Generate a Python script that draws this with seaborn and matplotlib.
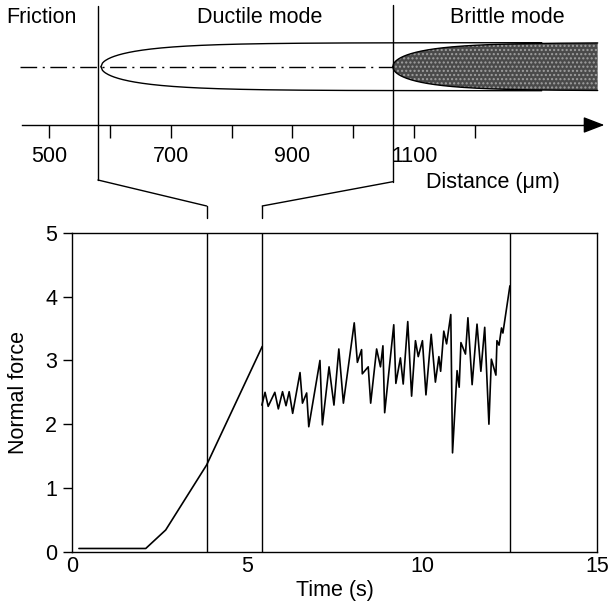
import matplotlib
matplotlib.use("Agg")
import matplotlib.pyplot as plt
import numpy as np
import pandas as pd
import seaborn as sns
from matplotlib.patches import ConnectionPatch

# lower panel: normal force vs time
ramp_t = [0.19, 2.10, 2.67, 3.84, 5.43]
ramp_f = [0.05, 0.05, 0.34, 1.36, 3.22]

noise_t = [5.42, 5.51, 5.60, 5.79, 5.89, 6.01, 6.11, 6.20, 6.30, 6.51,
           6.58, 6.70, 6.76, 7.08, 7.15, 7.34, 7.48, 7.62, 7.75, 8.06,
           8.15, 8.27, 8.29, 8.46, 8.53, 8.70, 8.81, 8.88, 8.93, 9.19,
           9.25, 9.38, 9.46, 9.59, 9.70, 9.81, 9.89, 10.01, 10.11, 10.26,
           10.38, 10.48, 10.53, 10.62, 10.70, 10.82, 10.87, 11.00, 11.06, 11.11,
           11.24, 11.31, 11.43, 11.57, 11.68, 11.79, 11.91, 11.98, 12.11, 12.14,
           12.20, 12.27, 12.31, 12.51]
noise_f = [2.30, 2.50, 2.28, 2.50, 2.24, 2.51, 2.29, 2.51, 2.17, 2.81,
           2.33, 2.49, 1.96, 3.00, 1.99, 2.90, 2.30, 3.18, 2.33, 3.59,
           2.97, 3.17, 2.79, 2.90, 2.33, 3.18, 2.90, 3.23, 2.18, 3.56,
           2.64, 3.04, 2.63, 3.61, 2.44, 3.31, 3.06, 3.31, 2.46, 3.41,
           2.66, 3.06, 2.83, 3.46, 3.26, 3.72, 1.55, 2.84, 2.58, 3.28,
           3.10, 3.67, 2.62, 3.57, 2.83, 3.52, 2.00, 3.02, 2.77, 3.31,
           3.24, 3.51, 3.43, 4.17]

mode_lines_t = [3.84, 5.43, 12.51]
time_ticks = [0, 5, 10, 15]
force_ticks = [0, 1, 2, 3, 4, 5]

# upper panel: distance scale (um)
dist_major = [500, 700, 900, 1100]
dist_minor = [600, 800, 1000, 1200]
friction_end = 580
ductile_end = 1065
groove_tip = 585
groove_end = 1310
brittle_end = 1402
zone_labels = ["Friction", "Ductile mode", "Brittle mode"]
zone_label_x = [430, 846, 1254]

sns.set_theme(style="white")
plt.rcParams["font.family"] = ["Liberation Sans", "DejaVu Sans"]
plt.rcParams["lines.scale_dashes"] = False
fs = 15.5

fig = plt.figure(figsize=(6.09, 6.11), dpi=100)
ax = fig.add_axes([0.1187, 0.0971, 0.8616, 0.5216])
top = fig.add_axes([0, 0.6432, 1, 0.3568])

ramp_df = pd.DataFrame({"t": ramp_t, "f": ramp_f})
noise_df = pd.DataFrame({"t": noise_t, "f": noise_f})
sns.lineplot(data=ramp_df, x="t", y="f", color="black", lw=1.2,
             estimator=None, sort=False, ax=ax)
sns.lineplot(data=noise_df, x="t", y="f", color="black", lw=1.2,
             estimator=None, sort=False, ax=ax)
for t in mode_lines_t:
    ax.axvline(t, color="black", lw=1.0)

ax.set_xlim(0, 15)
ax.set_ylim(0, 5)
ax.set_xticks(time_ticks)
ax.set_yticks(force_ticks)
ax.tick_params(axis="x", length=0, pad=3, labelsize=fs, colors="black")
ax.tick_params(axis="y", length=6.5, width=1.0, pad=4.5, labelsize=fs,
               colors="black", left=True)
for s in ax.spines.values():
    s.set_color("black")
    s.set_linewidth(1.0)
ax.set_xlabel("Time (s)", fontsize=fs, color="black")
ax.set_ylabel("Normal force", fontsize=fs, color="black")
ax.xaxis.set_label_coords(0.5, -0.09)
ax.yaxis.set_label_coords(-0.082, 0.5)

# upper schematic
top.set_xlim(418.9, 1420.6)
top.set_ylim(-151.3, 66.7)
top.set_facecolor("none")
for k in ["top", "right", "left"]:
    top.spines[k].set_visible(False)
top.spines["bottom"].set_position(("data", -58.3))
top.spines["bottom"].set_bounds(455, 1395)
top.spines["bottom"].set_color("black")
top.spines["bottom"].set_linewidth(1.0)
top.set_yticks([])
top.set_xticks(dist_major)
top.set_xticks(dist_minor, minor=True)
top.tick_params(axis="x", which="both", direction="out", length=9.4,
                width=1.0, colors="black", bottom=True, labelsize=fs, pad=6)
top.annotate("", xy=(1413, -58.3), xytext=(1380, -58.3),
             arrowprops=dict(arrowstyle="-|>,head_length=0.65,head_width=0.25",
                             mutation_scale=20, color="black", lw=1.0,
                             shrinkA=0, shrinkB=0))

top.plot([452, ductile_end], [0, 0], color="black", lw=1.0,
         dashes=(12, 4, 1.5, 4))

hw = 24
x = np.linspace(groove_tip, groove_end, 300)
y = hw * np.sqrt(1 - np.exp(-(x - groove_tip) / 105))
top.plot(x, y, color="black", lw=1.0)
top.plot(x, -y, color="black", lw=1.0)

xb = np.linspace(ductile_end, brittle_end, 300)
yb = hw * np.sqrt(1 - np.exp(-(xb - ductile_end) / 85))
top.fill_between(xb, -yb, yb, facecolor="#4a4a4a", edgecolor="#a0a0a0",
                 hatch="....", lw=0)
top.plot(xb, yb, color="black", lw=1.0)
top.plot(xb, -yb, color="black", lw=1.0)

top.plot([friction_end, friction_end], [60.7, -113.3], color="black", lw=1.0)
top.plot([ductile_end, ductile_end], [61.7, -115], color="black", lw=1.0)

for lab, lx in zip(zone_labels, zone_label_x):
    top.text(lx, 49.7, lab, fontsize=fs, ha="left" if lab == "Friction" else "center",
             va="center", color="black")
top.text(1230, -116, "Distance (μm)", fontsize=fs, ha="center", va="center",
         color="black")

# bracket linking the ductile zone to the zoomed time window
for xa, ya, tb in [(friction_end, -113.3, mode_lines_t[0]),
                   (ductile_end, -115, mode_lines_t[1])]:
    con = ConnectionPatch(xyA=(xa, ya), coordsA=top.transData,
                          xyB=(tb, 1.0847), coordsB=ax.get_xaxis_transform(),
                          color="black", lw=1.0)
    fig.add_artist(con)
    ax.plot([tb, tb], [1.047, 1.0847], color="black", lw=1.0,
            transform=ax.get_xaxis_transform(), clip_on=False)

fig.savefig("out.png", dpi=100)
